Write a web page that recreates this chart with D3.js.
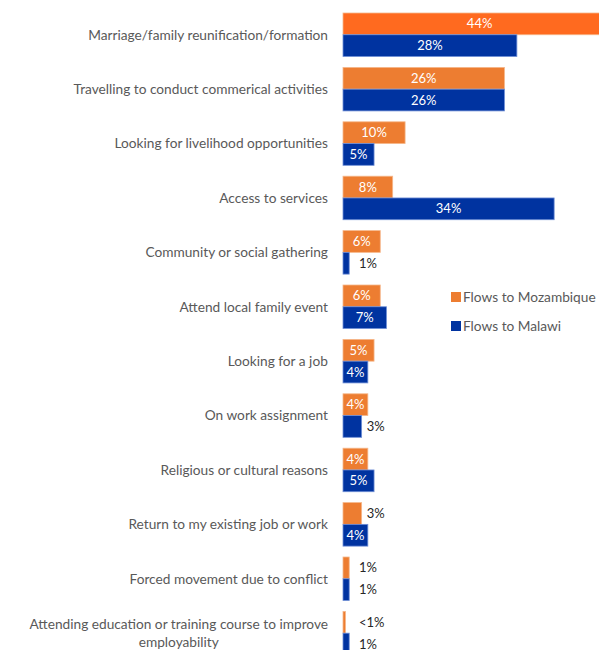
<!DOCTYPE html>
<html>
<head>
<meta charset="utf-8">
<script src="https://cdn.jsdelivr.net/npm/d3@7"></script>
<style>
  html, body { margin: 0; padding: 0; background: #fff; }
  svg { display: block; font-family: Lato, "Open Sans", sans-serif; }
</style>
</head>
<body>
<div id="chart"></div>
<script>
// Reasons for cross-border movement, share of respondents by flow direction
const categories = [
  "Marriage/family reunification/formation",
  "Travelling to conduct commerical activities",
  "Looking for livelihood opportunities",
  "Access to services",
  "Community or social gathering",
  "Attend local family event",
  "Looking for a job",
  "On work assignment",
  "Religious or cultural reasons",
  "Return to my existing job or work",
  "Forced movement due to conflict",
  "Attending education or training course to improve employability"
];
const seriesNames = ["Flows to Mozambique", "Flows to Malawi"];
const mozambique = [44, 26, 10, 8, 6, 6, 5, 4, 4, 3, 1, 0.4];
const malawi     = [28, 26, 5, 34, 1, 7, 4, 3, 5, 4, 1, 1];
const mozambiqueLabels = ["44%", "26%", "10%", "8%", "6%", "6%", "5%", "4%", "4%", "3%", "1%", "<1%"];
const malawiLabels     = ["28%", "26%", "5%", "34%", "1%", "7%", "4%", "3%", "5%", "4%", "1%", "1%"];
// Two-line wrapping for the long last category
const categoryLines = categories.map(c =>
  c.startsWith("Attending education")
    ? ["Attending education or training course to improve", "employability"]
    : [c]);

const W = 599, H = 650;
const colors = ["#ED7D31", "#0033A0"];
const highlight = "#FF6A1F";
const strokes = ["#F6B78A", "#6F8FD6"];
const labelSize = 13.7;

const svg = d3.select("#chart").append("svg")
  .attr("width", W).attr("height", H);

const y = d3.scaleBand()
  .domain(d3.range(categories.length))
  .range([7.56, 7.56 + 12 * 54.4])
  .paddingInner(0.2)
  .paddingOuter(0.1);

const ySub = d3.scaleBand()
  .domain([0, 1])
  .range([0, y.bandwidth()]);

const x = d3.scaleLinear().domain([0, 100]).range([343, 343 + 621]);

const rows = categories.map((c, i) => ({
  i,
  vals: [
    { s: 0, v: mozambique[i], label: mozambiqueLabels[i] },
    { s: 1, v: malawi[i], label: malawiLabels[i] }
  ]
}));

const g = svg.selectAll("g.row").data(rows).join("g")
  .attr("class", "row")
  .attr("transform", d => `translate(0,${y(d.i)})`);

g.selectAll("rect").data(d => d.vals.map(v => ({ ...v, i: d.i }))).join("rect")
  .attr("x", x(0))
  .attr("y", d => ySub(d.s))
  .attr("width", d => x(d.v) - x(0))
  .attr("height", ySub.bandwidth())
  .attr("fill", d => (d.s === 0 && d.i === 0) ? highlight : colors[d.s])
  .attr("stroke", d => strokes[d.s])
  .attr("stroke-width", 0.8);

// Value labels: centred inside wide bars, just past the end of narrow ones
g.selectAll("text.val").data(d => d.vals).join("text")
  .attr("class", "val")
  .each(function (d) {
    const w = x(d.v) - x(0);
    const t = d3.select(this)
      .attr("y", ySub(d.s) + ySub.bandwidth() / 2)
      .attr("dy", "0.35em")
      .attr("font-size", 13)
      .text(d.label);
    if (w >= 22) {
      t.attr("x", x(0) + w / 2).attr("text-anchor", "middle").attr("fill", "#fff");
    } else {
      t.attr("x", Math.max(x(d.v) + 5, 359)).attr("text-anchor", "start").attr("fill", "#262626");
    }
  });

// Category labels, right-aligned block with centred lines
g.each(function (d) {
  const lines = categoryLines[d.i];
  const sel = d3.select(this);
  const lh = 18;
  const cy = y.bandwidth() / 2;
  const t = sel.append("text")
    .attr("font-size", labelSize)
    .attr("fill", "#595959")
    .attr("text-anchor", "middle");
  lines.forEach((ln, k) => {
    t.append("tspan")
      .attr("x", 0)
      .attr("y", cy + (k - (lines.length - 1) / 2) * lh)
      .attr("dy", "0.35em")
      .text(ln);
  });
  // shift so the widest line ends at the label edge
  const bb = t.node().getBBox();
  t.selectAll("tspan").attr("x", 328 - bb.width / 2);
});

// Legend
const legend = svg.append("g").attr("transform", "translate(451,292)");
seriesNames.forEach((name, k) => {
  const row = legend.append("g").attr("transform", `translate(0,${k * 29})`);
  row.append("rect").attr("width", 10).attr("height", 10).attr("fill", colors[k]);
  row.append("text").attr("x", 12).attr("y", 5).attr("dy", "0.35em")
    .attr("font-size", labelSize).attr("fill", "#595959").text(name);
});
</script>
</body>
</html>
